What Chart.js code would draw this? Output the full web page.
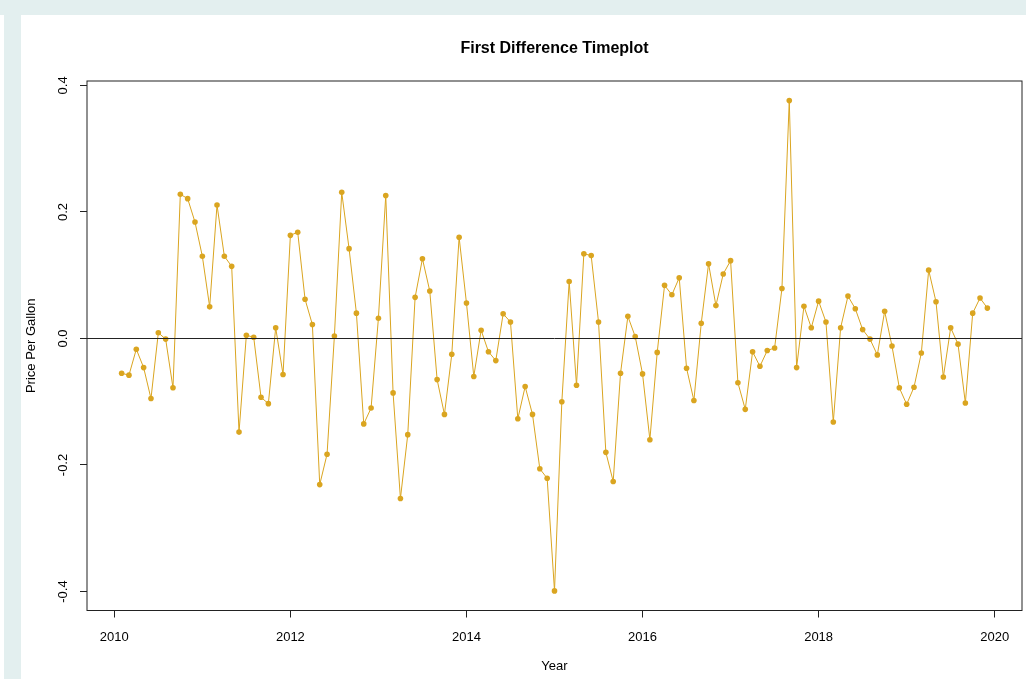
<!DOCTYPE html>
<html>
<head>
<meta charset="utf-8">
<title>First Difference Timeplot</title>
<script src="https://cdn.jsdelivr.net/npm/chart.js@4.4.1/dist/chart.umd.min.js"></script>
<style>
  body { margin: 0; background: #ffffff; }
  #wrap { position: relative; width: 1026px; height: 679px; overflow: hidden; }
  .band { position: absolute; background: #e3efef; }
  canvas { position: absolute; left: 0; top: 0; }
</style>
</head>
<body>
<div id="wrap">
  <div class="band" style="left:0;top:0;width:1026px;height:15px"></div>
  <div class="band" style="left:4px;top:15px;width:17px;height:664px"></div>
  <canvas id="myChart" width="1026" height="679"></canvas>
</div>
<script>
// monthly first differences, Feb 2010 .. Dec 2019
const startYear = 2010;
const startMonth = 2;
const diffs = [
  -0.055, -0.058, -0.017, -0.046, -0.095, 0.009, -0.001, -0.078, 0.228, 0.221, 0.184,
  0.130, 0.050, 0.211, 0.130, 0.114, -0.148, 0.005, 0.002, -0.093, -0.103, 0.017, -0.057,
  0.163, 0.168, 0.062, 0.022, -0.231, -0.183, 0.004, 0.231, 0.142, 0.040, -0.135,
  -0.110, 0.032, 0.226, -0.086, -0.253, -0.152, 0.065, 0.126, 0.075, -0.065, -0.120,
  -0.025, 0.160, 0.056, -0.060, 0.013, -0.021, -0.035, 0.039, 0.026, -0.127, -0.076,
  -0.120, -0.206, -0.221, -0.399, -0.100, 0.090, -0.074, 0.134, 0.131, 0.026, -0.180,
  -0.226, -0.055, 0.035, 0.003, -0.056, -0.160, -0.022, 0.084, 0.069, 0.096, -0.047,
  -0.098, 0.024, 0.118, 0.052, 0.102, 0.123, -0.070, -0.112, -0.021, -0.044, -0.019,
  -0.015, 0.079, 0.376, -0.046, 0.051, 0.017, 0.059, 0.026, -0.132, 0.017, 0.067,
  0.047, 0.014, -0.001, -0.026, 0.043, -0.012, -0.078, -0.104, -0.077, -0.023, 0.108,
  0.058, -0.061, 0.017, -0.009, -0.102, 0.040, 0.064, 0.048
];
const xTicks = [2010, 2012, 2014, 2016, 2018, 2020];
const yTicks = [-0.4, -0.2, 0.0, 0.2, 0.4];

const points = diffs.map((v, i) => ({ x: startYear + (startMonth - 1 + i) / 12, y: v }));

// R style 4% range extension
const xs = points.map(p => p.x);
const xPad = (Math.max(...xs) - Math.min(...xs)) * 0.04;
const yPad = (Math.max(...diffs) - Math.min(...diffs)) * 0.04;

const gold = '#daa520';
const fontFamily = '"Liberation Sans", Arial, Helvetica, sans-serif';

const rPlot = {
  id: 'rPlot',
  afterDatasetsDraw(chart) {
    const ctx = chart.ctx;
    const a = chart.chartArea;
    const y0 = Math.round(chart.scales.y.getPixelForValue(0)) + 0.5;
    ctx.save();
    ctx.strokeStyle = '#222';
    ctx.lineWidth = 1;
    ctx.beginPath();
    ctx.moveTo(a.left, y0);
    ctx.lineTo(a.right, y0);
    ctx.stroke();
    ctx.strokeRect(a.left, a.top, a.right - a.left, a.bottom - a.top);
    ctx.restore();
  },
  afterDraw(chart) {
    // rotated y tick labels like R's las = 0
    const ctx = chart.ctx;
    const ys = chart.scales.y;
    ctx.save();
    ctx.fillStyle = '#000';
    ctx.font = '13px ' + fontFamily;
    ctx.textAlign = 'center';
    ctx.textBaseline = 'middle';
    ys.ticks.forEach(t => {
      ctx.save();
      ctx.translate(63, ys.getPixelForValue(t.value));
      ctx.rotate(-Math.PI / 2);
      ctx.fillText(t.value.toFixed(1), 0, 0);
      ctx.restore();
    });
    ctx.restore();
  }
};

var ctx = document.getElementById('myChart').getContext('2d');
var chart = new Chart(ctx, {
  type: 'line',
  data: {
    datasets: [{
      data: points,
      borderColor: gold,
      backgroundColor: gold,
      borderWidth: 1,
      pointRadius: 2.8,
      pointBorderWidth: 0,
      pointBackgroundColor: gold,
      tension: 0
    }]
  },
  options: {
    responsive: false,
    animation: false,
    layout: { padding: { left: 0, right: 2, top: 0, bottom: 0 } },
    plugins: {
      legend: { display: false },
      tooltip: { enabled: false },
      title: {
        display: true,
        fullSize: false,
        text: 'First Difference Timeplot',
        color: '#000',
        font: { family: fontFamily, size: 16, weight: 'bold' },
        padding: { top: 39.4, bottom: 22.4 }
      }
    },
    scales: {
      x: {
        type: 'linear',
        min: Math.min(...xs) - xPad,
        max: Math.max(...xs) + xPad,
        afterBuildTicks: s => { s.ticks = xTicks.map(v => ({ value: v })); },
        afterFit: s => { s.height = 68.5; s.paddingLeft = 0; s.paddingRight = 0; },
        grid: { drawOnChartArea: false, tickLength: 7, color: '#222', tickColor: '#222' },
        border: { display: false },
        ticks: {
          color: '#000',
          padding: 12,
          maxRotation: 0,
          font: { family: fontFamily, size: 13 },
          callback: v => String(v)
        },
        title: {
          display: true,
          text: 'Year',
          color: '#000',
          font: { family: fontFamily, size: 13 },
          padding: { top: 0, bottom: 4.5 }
        }
      },
      y: {
        type: 'linear',
        min: Math.min(...diffs) - yPad,
        max: Math.max(...diffs) + yPad,
        afterBuildTicks: s => { s.ticks = yTicks.map(v => ({ value: v })); },
        afterFit: s => { s.width = 87; s.paddingTop = 0; s.paddingBottom = 0; },
        grid: { drawOnChartArea: false, tickLength: 7, color: '#222', tickColor: '#222' },
        border: { display: false },
        ticks: { display: false },
        title: {
          display: true,
          text: 'Price Per Gallon',
          color: '#000',
          font: { family: fontFamily, size: 13 },
          padding: { top: 24, bottom: 0 }
        }
      }
    }
  },
  plugins: [rPlot]
});
</script>
</body>
</html>
